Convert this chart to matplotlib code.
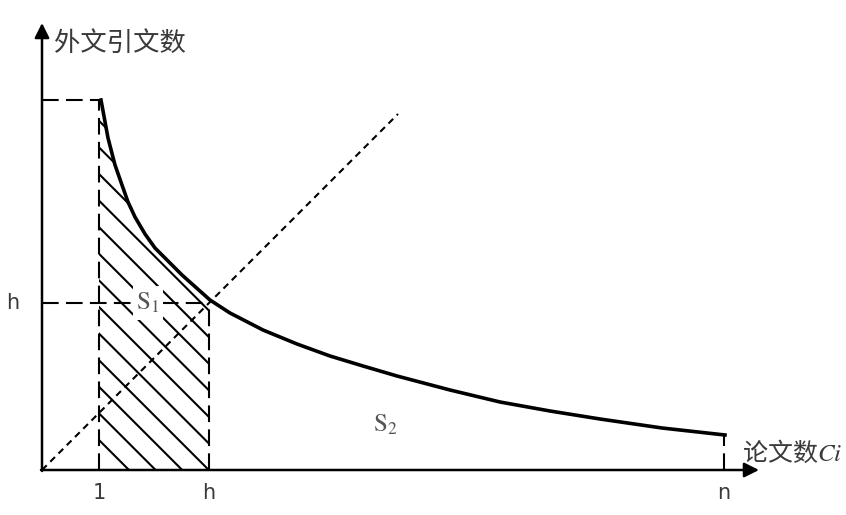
import numpy as np
import matplotlib.pyplot as plt
from matplotlib.patches import Polygon

plt.rcParams['font.family'] = ['Noto Sans CJK SC', 'DejaVu Sans']
plt.rcParams['mathtext.fontset'] = 'stix'

# courbe (rang de l'article -> nombre de citations)
curve_x = [59, 66, 73, 80, 86, 93, 103, 113, 126, 140, 168, 188, 221, 255, 288, 321, 355,
           408, 458, 508, 558, 620, 683]
curve_y = [370, 332, 305, 285, 268, 253, 236, 222, 209, 195, 170, 157, 140, 126, 114, 104, 94,
           80, 68, 59, 51, 42, 35]

pos_1 = 57      # article 1
pos_h = 167     # article h
pos_n = 682     # article n
top_val = 370   # citations du premier article
h_val = 167     # niveau h
diag_end = 356  # fin de la droite y = x

tick_pos = [pos_1, pos_h, pos_n]
tick_labels = ['1', 'h', 'n']

fig = plt.figure(figsize=(8.46, 5.15), dpi=100)
ax = fig.add_axes([0, 0, 1, 1])
ax.set_xlim(-42, 804)
ax.set_ylim(-45, 470)
ax.axis('off')

# axes avec flèches
ax.annotate('', xy=(0, 447), xytext=(0, -1),
            arrowprops=dict(arrowstyle='-|>', lw=1.8, color='black', mutation_scale=22,
                            shrinkA=0, shrinkB=0))
ax.annotate('', xy=(717, 0), xytext=(-1, 0),
            arrowprops=dict(arrowstyle='-|>', lw=1.8, color='black', mutation_scale=22,
                            shrinkA=0, shrinkB=0))

# zone hachurée S1
verts = [(pos_1, 0), (pos_1, top_val)]
verts += [(x, y) for x, y in zip(curve_x, curve_y) if x <= pos_h + 1]
verts += [(pos_h, 0)]
zone = Polygon(verts, closed=True, facecolor='none', edgecolor='none')
ax.add_patch(zone)
xs = np.array([0, 700])
for c in np.arange(87, 420, 26.6):
    ln, = ax.plot(xs, c - xs, color='black', lw=1.5, solid_capstyle='butt')
    ln.set_clip_path(zone)

# lignes pointillées
dash = dict(color='black', lw=1.5, dashes=(8, 3.5))
ax.plot([0, pos_1], [top_val, top_val], **dash)
ax.plot([pos_1, pos_1], [0, top_val], **dash)
ax.plot([0, pos_h], [h_val, h_val], **dash)
ax.plot([pos_h, pos_h], [0, h_val], **dash)
ax.plot([pos_n, pos_n], [0, curve_y[-1]], **dash)

# droite y = x
ax.plot([0, diag_end], [0, diag_end], color='black', lw=1.5, dashes=(3.2, 2.4))

# courbe
ax.plot(curve_x, curve_y, color='black', lw=2.6, solid_joinstyle='round')

# textes
grey = '#3a3a3a'
for p, lab in zip(tick_pos, tick_labels):
    ax.text(p, -23, lab, ha='center', va='center', fontsize=15,
            family='DejaVu Sans', color=grey)
ax.text(-29, h_val, 'h', ha='center', va='center', fontsize=15,
        family='DejaVu Sans', color=grey)

ax.text(12, 427, '外文引文数', ha='left', va='center', fontsize=19, color=grey)
ax.text(700, 17, '论文数$Ci$', ha='left', va='center', fontsize=18, color=grey)
ax.text(106, 167, r'$\mathrm{S}_{1}$', ha='center', va='center', fontsize=18, color='#555555',
        bbox=dict(boxstyle='square,pad=0.15', facecolor='white', edgecolor='none'))
ax.text(343, 45, r'$\mathrm{S}_{2}$', ha='center', va='center', fontsize=18, color='#555555')

fig.savefig('out.png', dpi=100)
